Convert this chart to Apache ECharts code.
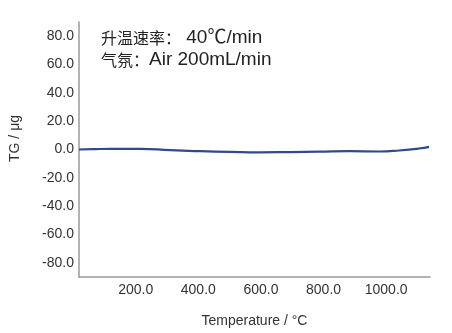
<!DOCTYPE html>
<html>
<head>
<meta charset="utf-8">
<script src="https://cdn.jsdelivr.net/npm/echarts@6/dist/echarts.min.js"></script>
<style>
  html, body { margin: 0; padding: 0; background: #fff; }
  #chart { width: 452px; height: 333px; }
</style>
</head>
<body>
<div id="chart"></div>
<script>
// temperature (°C) and TG (μg)
const temps = [19, 60, 121, 216, 311, 406, 502, 597, 692, 787, 883, 978, 1041, 1105, 1137];
const tgValues = [0.0, 0.2, 0.5, 0.5, -0.5, -1.2, -1.7, -2.0, -1.8, -1.5, -1.2, -1.4, -0.7, 0.7, 1.9];
const xTicks = [200, 400, 600, 800, 1000];
const yTicks = [-80, -60, -40, -20, 0, 20, 40, 60, 80];
const noteLines = [['升温速率：', ' 40℃/min'], ['气氛：', 'Air 200mL/min']];

const font = '"Liberation Sans", Arial, "Noto Sans CJK SC", sans-serif';
const textColor = '#333';

const chart = echarts.init(document.getElementById('chart'));
chart.setOption({
  animation: false,
  textStyle: { fontFamily: font },
  grid: { left: 78, right: 22, top: 22, bottom: 49 },
  graphic: noteLines.map((parts, i) => ({
    type: 'text',
    left: 101,
    top: 28 + i * 22,
    style: {
      text: '{cn|' + parts[0] + '}{en|' + parts[1] + '}',
      rich: {
        cn: { fontSize: 16, fontFamily: '"Noto Sans CJK SC", sans-serif', fill: '#222' },
        en: { fontSize: 19, fontFamily: '"Liberation Sans", Arial, "Noto Sans CJK SC", sans-serif', fill: '#222' }
      }
    }
  })),
  xAxis: {
    type: 'value',
    min: 19,
    max: 1140,
    name: 'Temperature / °C',
    nameLocation: 'middle',
    nameGap: 37,
    nameTextStyle: { fontSize: 14, color: textColor, fontFamily: font },
    axisLine: { show: true, onZero: false, lineStyle: { color: '#9a9a9a', width: 1.5 } },
    axisTick: { show: false },
    splitLine: { show: false },
    axisLabel: {
      customValues: xTicks,
      fontSize: 14,
      color: textColor,
      margin: 6,
      formatter: v => v.toFixed(1)
    }
  },
  yAxis: {
    type: 'value',
    min: -90,
    max: 90,
    name: 'TG / μg',
    nameLocation: 'middle',
    nameRotate: 90,
    nameGap: 57,
    nameTextStyle: { fontSize: 14, color: textColor, fontFamily: font, padding: [0, 0, 0, 22] },
    axisLine: { show: true, onZero: false, lineStyle: { color: '#9a9a9a', width: 1.5 } },
    axisTick: { show: false },
    splitLine: { show: false },
    axisLabel: {
      customValues: yTicks,
      fontSize: 14,
      color: textColor,
      margin: 5,
      formatter: v => v.toFixed(1)
    }
  },
  series: [{
    type: 'line',
    data: temps.map((t, i) => [t, tgValues[i]]),
    smooth: true,
    showSymbol: false,
    lineStyle: { color: '#2f4b8c', width: 2.2 }
  }]
});
</script>
</body>
</html>
